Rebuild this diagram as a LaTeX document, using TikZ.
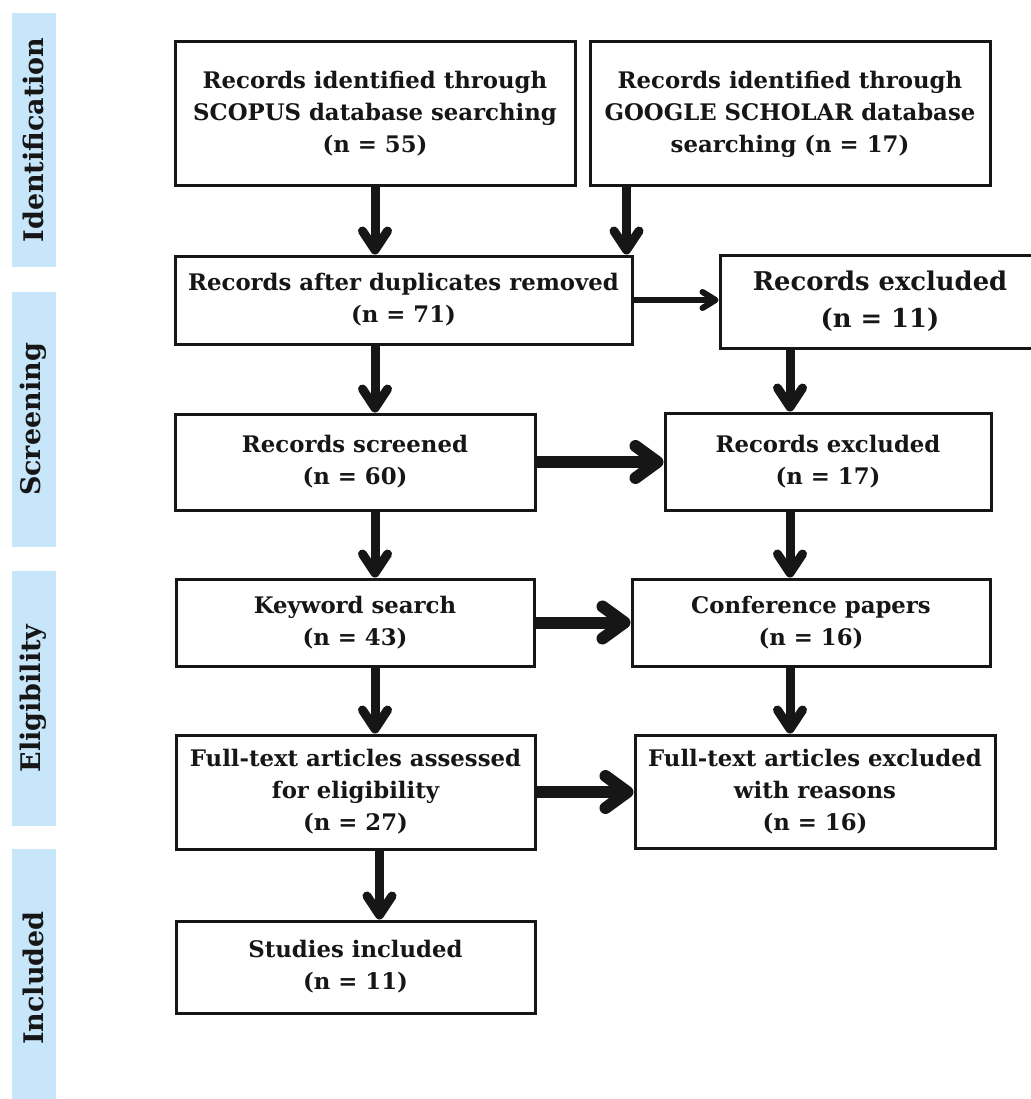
\documentclass[tikz,border=0pt]{standalone}
\usepackage{fontspec}
\setmainfont{DejaVu Serif}
\usetikzlibrary{arrows.meta,calc}
\definecolor{barblue}{RGB}{200,230,250}
\definecolor{ink}{RGB}{22,22,22}
\begin{document}
\begin{tikzpicture}[x=1pt,y=-1pt,
  box/.style={draw=ink,line width=3pt,fill=white,align=center,inner sep=0pt,
    font=\bfseries\fontsize{22.8}{32}\selectfont,text=ink},
  bigtext/.style={font=\bfseries\fontsize{25.8}{37}\selectfont},
  bar/.style={fill=barblue,draw=none,rotate=90,inner sep=0pt,minimum height=44pt,
    font=\bfseries\fontsize{27}{30}\selectfont,text=ink},
  flow/.style={draw=ink,line width=9pt,-{Straight Barb[length=19pt,width=25pt,round]}},
  fatflow/.style={draw=ink,line width=12pt,-{Straight Barb[length=22pt,width=32pt,round]}},
  thinflow/.style={draw=ink,line width=6pt,-{Straight Barb[length=13pt,width=16pt,round]}}
]
\useasboundingbox (0,0) rectangle (1030,1099);
\fill[white] (0,0) rectangle (1030,1099);

% phase bars
\node[bar,minimum width=254pt] (pid) at (33.5,140) {Identification};
\node[bar,minimum width=255pt] (psc) at (33.5,419.5) {Screening};
\node[bar,minimum width=255pt] (pel) at (33.5,698.5) {Eligibility};
\node[bar,minimum width=258pt] (pin) at (33.5,978) {Included};

% boxes
\node[box,minimum width=400pt,minimum height=144pt] (A) at (375,114)
  {Records identified through\\SCOPUS database searching\\(n = 55)};
\node[box,minimum width=400pt,minimum height=144pt] (B) at (790,114)
  {Records identified through\\GOOGLE SCHOLAR database\\searching (n = 17)};
\node[box,minimum width=457pt,minimum height=88pt] (C) at (403.5,300)
  {Records after duplicates removed\\(n = 71)};
\node[box,bigtext,minimum width=320pt,minimum height=93pt] (D) at (880,301.5)
  {Records excluded\\(n = 11)};
\node[box,minimum width=360pt,minimum height=96pt] (E) at (355,462)
  {Records screened\\(n = 60)};
\node[box,minimum width=326pt,minimum height=97pt] (I) at (828,461.5)
  {Records excluded\\(n = 17)};
\node[box,minimum width=358pt,minimum height=87pt] (F) at (355,622.5)
  {Keyword search\\(n = 43)};
\node[box,minimum width=358pt,minimum height=87pt] (J) at (811,622.5)
  {Conference papers\\(n = 16)};
\node[box,minimum width=359pt,minimum height=114pt] (G) at (355.5,792)
  {Full-text articles assessed\\for eligibility\\(n = 27)};
\node[box,minimum width=360pt,minimum height=113pt] (K) at (815,791.5)
  {Full-text articles excluded\\with reasons\\(n = 16)};
\node[box,minimum width=359pt,minimum height=92pt] (H) at (355.5,967)
  {Studies included\\(n = 11)};

% connectors
\coordinate (b1) at ($(B.south west)+(38,0)$);
\coordinate (g1) at ($(G.south)+(24,0)$);
\draw[flow] (A.south) -- (A.south |- C.north);
\draw[flow] (b1) -- (b1 |- C.north);
\draw[thinflow] (C.east) -- (C.east -| D.west);
\draw[flow] (A.south |- C.south) -- (A.south |- E.north);
\draw[flow] (B.south |- D.south) -- (B.south |- I.north);
\draw[fatflow] (E.east) -- (E.east -| I.west);
\draw[flow] (A.south |- E.south) -- (A.south |- F.north);
\draw[flow] (B.south |- I.south) -- (B.south |- J.north);
\draw[fatflow] (F.east) -- (F.east -| J.west);
\draw[flow] (A.south |- F.south) -- (A.south |- G.north);
\draw[flow] (B.south |- J.south) -- (B.south |- K.north);
\draw[fatflow] (G.east) -- (G.east -| K.west);
\draw[flow] (g1) -- (g1 |- H.north);
\end{tikzpicture}
\end{document}
